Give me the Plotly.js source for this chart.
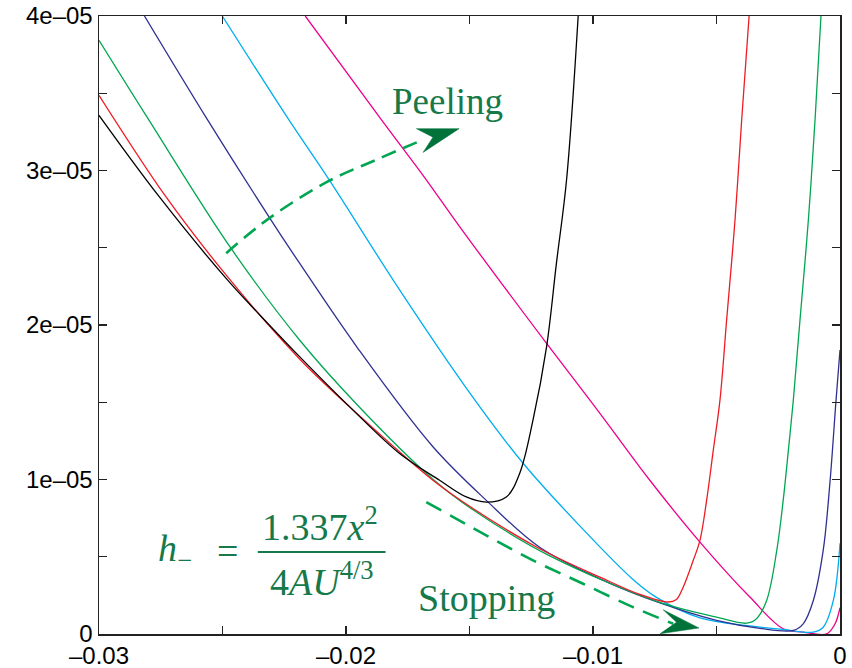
<!DOCTYPE html>
<html>
<head>
<meta charset="utf-8">
<script src="https://cdn.plot.ly/plotly-3.0.1.min.js"></script>
<style>html,body{margin:0;padding:0;background:#fff;}#chart{width:852px;height:668px;}</style>
</head>
<body>
<div id="chart"></div>
<script>
// ---- data (x and h in data units) ----
var blackX = [-0.0300, -0.02757, -0.02480, -0.02304, -0.02188, -0.01985, -0.01783, -0.01621, -0.01513, -0.01432, -0.01351, -0.01297, -0.01243, -0.01188, -0.01148, -0.01107, -0.01060];
var blackY = [3.357e-5, 2.832e-5, 2.292e-5, 1.989e-5, 1.795e-5, 1.470e-5, 1.168e-5, 9.95e-6, 8.87e-6, 8.54e-6, 8.87e-6, 1.039e-5, 1.384e-5, 1.859e-5, 2.400e-5, 2.940e-5, 4.0e-5];

var redX = [-0.0300, -0.02730, -0.02480, -0.02188, -0.01953, -0.01648, -0.01486, -0.01216, -0.00972, -0.00810, -0.00696, -0.00662, -0.00635, -0.00594, -0.00567, -0.00540, -0.00513, -0.00486, -0.00459, -0.00425, -0.00398, -0.00368];
var redY = [3.487e-5, 2.832e-5, 2.313e-5, 1.780e-5, 1.423e-5, 9.95e-6, 8.12e-6, 5.52e-6, 3.68e-6, 2.56e-6, 2.07e-6, 2.24e-6, 3.03e-6, 4.77e-6, 6.06e-6, 8.65e-6, 1.190e-5, 1.514e-5, 2.032e-5, 2.681e-5, 3.329e-5, 4.0e-5];

var greenX = [-0.0300, -0.02804, -0.02466, -0.02188, -0.01953, -0.01648, -0.01486, -0.01175, -0.00729, -0.00500, -0.00378, -0.00338, -0.00297, -0.00256, -0.00230, -0.00209, -0.00189, -0.00162, -0.00128, -0.00101, -0.00077];
var greenY = [3.843e-5, 3.342e-5, 2.497e-5, 1.903e-5, 1.481e-5, 1.002e-5, 8.04e-6, 5.06e-6, 2.04e-6, 1.09e-6, 7.0e-7, 9.9e-7, 2.17e-6, 5.41e-6, 8.65e-6, 1.190e-5, 1.514e-5, 2.032e-5, 2.681e-5, 3.329e-5, 4.0e-5];

var navyX = [-0.02816, -0.02561, -0.02304, -0.02188, -0.01953, -0.01648, -0.01432, -0.01216, -0.00972, -0.00729, -0.00500, -0.00324, -0.00189, -0.00149, -0.00108, -0.00068, -0.00041, -0.00016, 0.0];
var navyY = [4.0e-5, 3.329e-5, 2.681e-5, 2.400e-5, 1.851e-5, 1.212e-5, 8.65e-6, 5.61e-6, 3.57e-6, 2.01e-6, 8.8e-7, 3.6e-7, 2.3e-7, 6.6e-7, 2.17e-6, 5.41e-6, 9.74e-6, 1.514e-5, 1.838e-5];

var cyanX = [-0.02501, -0.02237, -0.02066, -0.01783, -0.01513, -0.01283, -0.01040, -0.00838, -0.00743, -0.00567, -0.00365, -0.00230, -0.00108, -0.00068, -0.00027, 0.0];
var cyanY = [4.0e-5, 3.342e-5, 2.934e-5, 2.227e-5, 1.592e-5, 1.105e-5, 6.77e-6, 3.53e-6, 2.37e-6, 1.04e-6, 5.2e-7, 2.9e-7, 1.2e-7, 4.4e-7, 2.17e-6, 5.87e-6];

var magentaX = [-0.02165, -0.01857, -0.01675, -0.01540, -0.01188, -0.00972, -0.00770, -0.00567, -0.00365, -0.00230, -0.00149, -0.00054, -0.00020, 0.0];
var magentaY = [4.0e-5, 3.329e-5, 2.940e-5, 2.637e-5, 1.881e-5, 1.428e-5, 9.95e-6, 5.95e-6, 2.39e-6, 3.4e-7, 1.2e-7, 1e-8, 6.6e-7, 1.70e-6];

// annotation arrows (data units)
var peelArrowX = [-0.02485, -0.02310, -0.02073, -0.01877, -0.01688];
var peelArrowY = [2.465e-5, 2.692e-5, 2.929e-5, 3.070e-5, 3.199e-5];
var peelHeadX = [-0.01715, -0.01542, -0.01688, -0.01648, -0.01715];
var peelHeadY = [3.271e-5, 3.271e-5, 3.117e-5, 3.216e-5, 3.271e-5];

var stopArrowX = [-0.01675, -0.01445, -0.01243, -0.01040, -0.00838, -0.00675];
var stopArrowY = [8.54e-6, 6.50e-6, 4.77e-6, 3.25e-6, 1.74e-6, 6.6e-7];
var stopHeadX = [-0.00716, -0.00571, -0.00729, -0.00662, -0.00716];
var stopHeadY = [1.57e-6, 3.9e-7, 1e-8, 7.6e-7, 1.57e-6];

// tick labels
var xTickVals = [-0.03, -0.02, -0.01, 0];
var xTickText = ["\u20130.03", "\u20130.02", "\u20130.01", "0"];
var yTickVals = [0, 1e-5, 2e-5, 3e-5, 4e-5];
var yTickText = ["0", "1e\u201305", "2e\u201305", "3e\u201305", "4e\u201305"];

var colors = {black: "#000000", red: "#ed1c24", green: "#00a651", navy: "#2e3192", cyan: "#00aeef", magenta: "#ec008c"};
var annGreen = "#00a651";
var headGreen = "#00723a";
var textGreen = "#16794a";

function curve(x, y, c) {
  return {x: x, y: y, type: "scatter", mode: "lines", line: {color: c, width: 1.3, shape: "spline", smoothing: 1}, hoverinfo: "skip"};
}

var traces = [
  curve(magentaX, magentaY, colors.magenta),
  curve(cyanX, cyanY, colors.cyan),
  curve(navyX, navyY, colors.navy),
  curve(greenX, greenY, colors.green),
  curve(redX, redY, colors.red),
  curve(blackX, blackY, colors.black),
  {x: peelArrowX, y: peelArrowY, type: "scatter", mode: "lines", line: {color: annGreen, width: 2.6, dash: "15px,8px", shape: "spline"}, hoverinfo: "skip"},
  {x: peelHeadX, y: peelHeadY, type: "scatter", mode: "lines", fill: "toself", fillcolor: headGreen, line: {color: headGreen, width: 0.5}, hoverinfo: "skip"},
  {x: stopArrowX, y: stopArrowY, type: "scatter", mode: "lines", line: {color: annGreen, width: 2.6, dash: "17px,10px", shape: "spline"}, hoverinfo: "skip", cliponaxis: false},
  {x: stopHeadX, y: stopHeadY, type: "scatter", mode: "lines", fill: "toself", fillcolor: headGreen, line: {color: headGreen, width: 0.5}, hoverinfo: "skip", cliponaxis: false}
];

var axisCommon = {
  showgrid: false, zeroline: false, showline: true, linecolor: "#222", linewidth: 1.5,
  mirror: "allticks", ticks: "inside", ticklen: 8, tickwidth: 1.3, tickcolor: "#222",
  tickfont: {family: "Liberation Sans, Arial, sans-serif", size: 24, color: "#000"},
  automargin: false
};

var layout = {
  width: 852, height: 668,
  margin: {l: 99, r: 12, t: 16, b: 34, pad: 0},
  paper_bgcolor: "#fff", plot_bgcolor: "#fff",
  showlegend: false,
  font: {family: "Liberation Sans, Arial, sans-serif"},
  xaxis: Object.assign({}, axisCommon, {
    range: [-0.03, 0], tickmode: "array", tickvals: xTickVals, ticktext: xTickText,
    minor: {tickmode: "linear", tick0: 0, dtick: 0.005, ticks: "inside", ticklen: 8, tickwidth: 1.3, tickcolor: "#222", showgrid: false}
  }),
  yaxis: Object.assign({}, axisCommon, {
    range: [0, 4e-5], tickmode: "array", tickvals: yTickVals, ticktext: yTickText,
    minor: {tickmode: "linear", tick0: 0, dtick: 5e-6, ticks: "inside", ticklen: 8, tickwidth: 1.3, tickcolor: "#222", showgrid: false}
  }),
  annotations: [
    {text: "Peeling", x: -0.01588, y: 3.446e-5, xref: "x", yref: "y", showarrow: false, xanchor: "center", yanchor: "middle",
     font: {family: "Liberation Serif, Times New Roman, serif", size: 37, color: textGreen}},
    {text: "Stopping", x: -0.01432, y: 2.30e-6, xref: "x", yref: "y", showarrow: false, xanchor: "center", yanchor: "middle",
     font: {family: "Liberation Serif, Times New Roman, serif", size: 38, color: textGreen}},
    {text: "<i>h</i><sub>\u2212</sub>", x: -0.02771, y: 5.37e-6, xref: "x", yref: "y", showarrow: false, xanchor: "left", yanchor: "middle",
     font: {family: "Liberation Serif, serif", size: 38, color: textGreen}},
    {text: "=", x: -0.02479, y: 5.37e-6, xref: "x", yref: "y", showarrow: false, xanchor: "center", yanchor: "middle",
     font: {family: "Liberation Serif, serif", size: 38, color: textGreen}},
    {text: "1.337<i>x</i><sup>2</sup>", x: -0.02107, y: 7.10e-6, xref: "x", yref: "y", showarrow: false, xanchor: "center", yanchor: "middle",
     font: {family: "Liberation Serif, serif", size: 38, color: textGreen}},
    {text: "4<i>AU</i><sup>4/3</sup>", x: -0.02097, y: 3.58e-6, xref: "x", yref: "y", showarrow: false, xanchor: "center", yanchor: "middle",
     font: {family: "Liberation Serif, serif", size: 38, color: textGreen}}
  ],
  shapes: [
    {type: "line", xref: "x", yref: "y", x0: -0.02357, x1: -0.01840, y0: 5.30e-6, y1: 5.30e-6, line: {color: textGreen, width: 2}}
  ]
};

Plotly.newPlot("chart", traces, layout, {staticPlot: true, displayModeBar: false});
</script>
</body>
</html>
